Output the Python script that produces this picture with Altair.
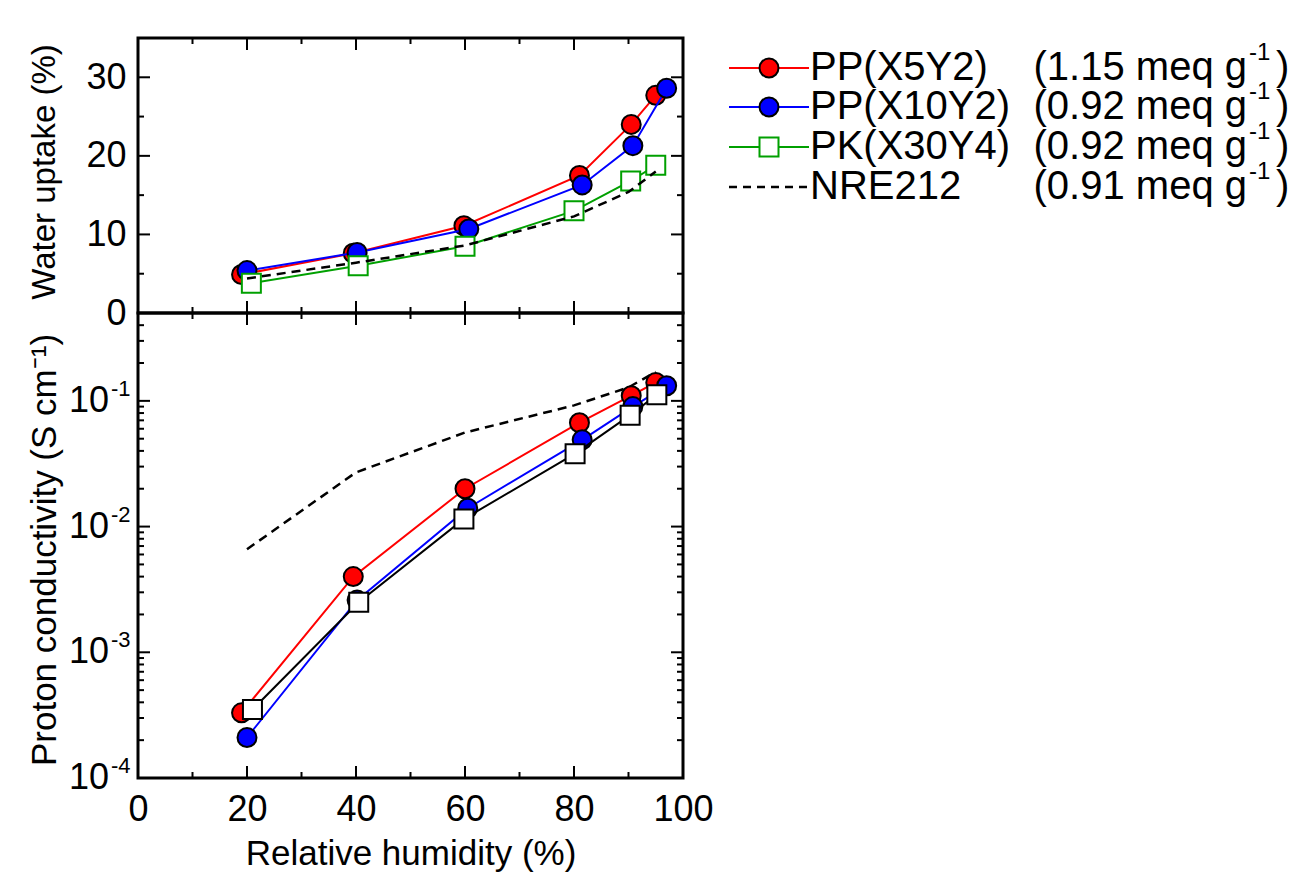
import altair as alt
import pandas as pd

# ---------------- data ----------------
# Water uptake (%) vs RH (%)
wu_pp5_rh = [19.0, 39.5, 59.8, 81.0, 90.5, 95.0]
wu_pp5 = [4.9, 7.6, 11.1, 17.5, 24.0, 27.7]
wu_pp10_rh = [20.0, 40.2, 60.7, 81.5, 90.8, 97.0]
wu_pp10 = [5.4, 7.7, 10.7, 16.3, 21.3, 28.6]
wu_pk_rh = [20.8, 40.4, 60.0, 80.0, 90.4, 95.0]
wu_pk = [3.8, 6.0, 8.5, 13.0, 16.8, 18.8]
wu_nre_rh = [20.0, 40.0, 60.0, 80.0, 90.0, 95.0]
wu_nre = [4.4, 6.4, 8.6, 12.3, 15.4, 18.0]

# Proton conductivity (S/cm) vs RH (%)
pc_pp5_rh = [19.0, 39.5, 60.0, 81.0, 90.5, 95.0]
pc_pp5 = [3.3e-4, 4.0e-3, 2.0e-2, 6.7e-2, 1.1e-1, 1.4e-1]
pc_pp10_rh = [20.0, 40.2, 60.5, 81.5, 90.8, 97.0]
pc_pp10 = [2.1e-4, 2.6e-3, 1.4e-2, 4.9e-2, 9.0e-2, 1.32e-1]
pc_pk_rh = [21.0, 40.5, 59.8, 80.2, 90.3, 95.2]
pc_pk = [3.5e-4, 2.5e-3, 1.15e-2, 3.8e-2, 7.7e-2, 1.12e-1]
pc_nre_rh = [20.0, 40.0, 60.0, 80.0, 90.0, 95.0]
pc_nre = [6.6e-3, 2.7e-2, 5.6e-2, 9.2e-2, 1.28e-1, 1.7e-1]

x_major = [0, 20, 40, 60, 80, 100]
x_minor = [10, 30, 50, 70, 90]
yt_major = [0, 10, 20, 30]
yt_minor = [5, 15, 25]
yb_major = [1e-4, 1e-3, 1e-2, 1e-1]
yb_minor = [k * d for d in [1e-4, 1e-3, 1e-2] for k in range(2, 10)] + [0.2, 0.3, 0.4]
log_base = ["10", "10", "10", "10"]
log_sup = ["-4", "-3", "-2", "-1"]

legend_names = ["PP(X5Y2)", "PP(X10Y2)", "PK(X30Y4)", "NRE212"]
legend_iec = ["(1.15 meq g", "(0.92 meq g", "(0.92 meq g", "(0.91 meq g"]
legend_rows = [30, 69, 109, 149]

# ---------------- style ----------------
W, HT, HB = 545, 275, 465
FONT = "Liberation Sans"
RED, BLUE, GREEN = "#FF0000", "#0000FF", "#00A000"
TICK_FS = 36
TITLE_FS = 35
LEG_FS = 40
MSIZE = 361

xs = alt.Scale(domain=[0, 100], nice=False, zero=False)
yts = alt.Scale(domain=[0, 35], nice=False, zero=False)
ybs = alt.Scale(type="log", domain=[1e-4, 0.5], nice=False)

ax_top_y = alt.Axis(values=yt_major, format="d", ticks=False, tickSize=0, domain=False, grid=False,
                    labelFontSize=TICK_FS, labelPadding=12, labelFlush=False, labelOverlap=False,
                    labelFont=FONT, labelColor="black",
                    title="Water uptake (%)", titleFontSize=33, titleX=-94, titleY=HT / 2 - 4,
                    titleBaseline="middle", titleAngle=270, titleFont=FONT, titleColor="black",
                    titleFontWeight="normal")

ax_bot_y = alt.Axis(values=yb_major, labels=False, ticks=False, tickSize=0, domain=False, grid=False,
                    title="Proton conductivity (S cm⁻¹)", titleFontSize=TITLE_FS, titleX=-94,
                    titleY=HB / 2 + 4, titleBaseline="middle", titleAngle=270, titleFont=FONT,
                    titleColor="black", titleFontWeight="normal")

ax_bot_x = alt.Axis(values=x_major, format="d", ticks=False, tickSize=0, domain=False, grid=False,
                    labelFontSize=TICK_FS, labelPadding=14, labelFlush=False, labelOverlap=False,
                    labelFont=FONT, labelColor="black",
                    title="Relative humidity (%)", titleFontSize=TITLE_FS, titleY=75,
                    titleBaseline="middle", titleFont=FONT, titleColor="black", titleFontWeight="normal")


def xy(x, y):
    return pd.DataFrame({"x": x, "y": y})


def tick_layers(yvals_major, yvals_minor, yscale, H, xaxis, yaxis):
    layers = []
    for vals, L in [(x_major, 12), (x_minor, 6)]:
        d = pd.DataFrame({"x": vals})
        enc_x = alt.X("x:Q", scale=xs, axis=xaxis)
        layers.append(alt.Chart(d).mark_rule(color="black", strokeWidth=2).encode(
            x=enc_x, y=alt.value(H), y2=alt.value(H - L)))
        layers.append(alt.Chart(d).mark_rule(color="black", strokeWidth=2).encode(
            x=enc_x, y=alt.value(0), y2=alt.value(L)))
    for vals, L in [(yvals_major, 12), (yvals_minor, 6)]:
        d = pd.DataFrame({"y": vals})
        enc_y = alt.Y("y:Q", scale=yscale, axis=yaxis)
        layers.append(alt.Chart(d).mark_rule(color="black", strokeWidth=2).encode(
            y=enc_y, x=alt.value(0), x2=alt.value(L)))
        layers.append(alt.Chart(d).mark_rule(color="black", strokeWidth=2).encode(
            y=enc_y, x=alt.value(W), x2=alt.value(W - L)))
    return layers


def series(x, y, yscale, color, kind, xaxis, yaxis, dash=False, edge="black"):
    d = xy(x, y)
    enc = dict(x=alt.X("x:Q", scale=xs, axis=xaxis), y=alt.Y("y:Q", scale=yscale, axis=yaxis))
    out = []
    if dash:
        out.append(alt.Chart(d).mark_line(color=color, strokeWidth=2.5, strokeDash=[9, 6]).encode(**enc))
        return out
    out.append(alt.Chart(d).mark_line(color=color, strokeWidth=2).encode(**enc))
    if kind == "circle":
        out.append(alt.Chart(d).mark_point(shape="circle", filled=True, fill=color, stroke="black",
                                           strokeWidth=2, size=MSIZE, opacity=1).encode(**enc))
    else:
        out.append(alt.Chart(d).mark_point(shape="square", filled=True, fill="white", stroke=edge,
                                           strokeWidth=2, size=MSIZE, opacity=1).encode(**enc))
    return out


# ---------------- top panel ----------------
top_layers = tick_layers(yt_major, yt_minor, yts, HT, None, ax_top_y)
top_layers += series(wu_pp5_rh, wu_pp5, yts, RED, "circle", None, ax_top_y)
top_layers += series(wu_pp10_rh, wu_pp10, yts, BLUE, "circle", None, ax_top_y)
top_layers += series(wu_pk_rh, wu_pk, yts, GREEN, "square", None, ax_top_y, edge=GREEN)
top_layers += series(wu_nre_rh, wu_nre, yts, "black", None, None, ax_top_y, dash=True)

# legend (drawn to the right of the top panel)
leg = pd.DataFrame({"name": legend_names, "iec": legend_iec, "ly": legend_rows,
                    "color": [RED, BLUE, GREEN, "black"]})
ly = alt.Y("ly:Q", scale=None)
LX0, LX1, LM = 591, 671, 631
top_layers.append(alt.Chart(leg.iloc[:3]).mark_rule(strokeWidth=2).encode(
    x=alt.value(LX0), x2=alt.value(LX1), y=ly, color=alt.Color("color:N", scale=None)))
top_layers.append(alt.Chart(leg.iloc[3:]).mark_rule(strokeWidth=2.5, strokeDash=[8, 6], color="black").encode(
    x=alt.value(LX0), x2=alt.value(LX1), y=ly))
top_layers.append(alt.Chart(leg.iloc[:2]).mark_point(shape="circle", filled=True, stroke="black",
                                                     strokeWidth=2, size=MSIZE, opacity=1).encode(
    x=alt.value(LM), y=ly, fill=alt.Fill("color:N", scale=None)))
top_layers.append(alt.Chart(leg.iloc[2:3]).mark_point(shape="square", filled=True, fill="white", stroke=GREEN,
                                                      strokeWidth=2, size=MSIZE, opacity=1).encode(
    x=alt.value(LM), y=ly))
top_layers.append(alt.Chart(leg).mark_text(align="left", baseline="middle", font=FONT, fontSize=LEG_FS,
                                           color="black").encode(x=alt.value(LX1 + 1), y=ly, text="name:N"))
top_layers.append(alt.Chart(leg).mark_text(align="right", baseline="middle", font=FONT, fontSize=LEG_FS,
                                           color="black").encode(x=alt.value(1109), y=ly, text="iec:N"))
top_layers.append(alt.Chart(leg).mark_text(align="left", baseline="middle", font=FONT, fontSize=24, dy=-15,
                                           color="black", text="-1").encode(x=alt.value(1111), y=ly))
top_layers.append(alt.Chart(leg).mark_text(align="left", baseline="middle", font=FONT, fontSize=LEG_FS,
                                           color="black", text=")").encode(x=alt.value(1138), y=ly))

top = alt.layer(*top_layers).properties(width=W, height=HT,
                                        view=alt.ViewBackground(stroke="black", strokeWidth=3))

# ---------------- bottom panel ----------------
bot_layers = tick_layers(yb_major, yb_minor, ybs, HB, ax_bot_x, ax_bot_y)
bot_layers += series(pc_nre_rh, pc_nre, ybs, "black", None, ax_bot_x, ax_bot_y, dash=True)
bot_layers += series(pc_pp5_rh, pc_pp5, ybs, RED, "circle", ax_bot_x, ax_bot_y)
bot_layers += series(pc_pp10_rh, pc_pp10, ybs, BLUE, "circle", ax_bot_x, ax_bot_y)
bot_layers += series(pc_pk_rh, pc_pk, ybs, "black", "square", ax_bot_x, ax_bot_y, edge="black")

lab = pd.DataFrame({"y": yb_major, "base": log_base, "sup": log_sup})
bot_layers.append(alt.Chart(lab).mark_text(align="right", baseline="middle", font=FONT, fontSize=TICK_FS,
                                           color="black").encode(
    y=alt.Y("y:Q", scale=ybs, axis=ax_bot_y), x=alt.value(-29), text="base:N"))
bot_layers.append(alt.Chart(lab).mark_text(align="left", baseline="middle", font=FONT, fontSize=22, dy=-12,
                                           color="black").encode(
    y=alt.Y("y:Q", scale=ybs, axis=ax_bot_y), x=alt.value(-27), text="sup:N"))

bottom = alt.layer(*bot_layers).properties(width=W, height=HB,
                                           view=alt.ViewBackground(stroke="black", strokeWidth=3))

chart = alt.vconcat(top, bottom, spacing=0, bounds="flush").properties(
    padding={"left": 25, "top": 35, "right": 5, "bottom": 5}, background="white"
).configure_view(stroke="black", strokeWidth=3)

chart.save("out.html", embed_options={"renderer": "svg", "actions": False})
